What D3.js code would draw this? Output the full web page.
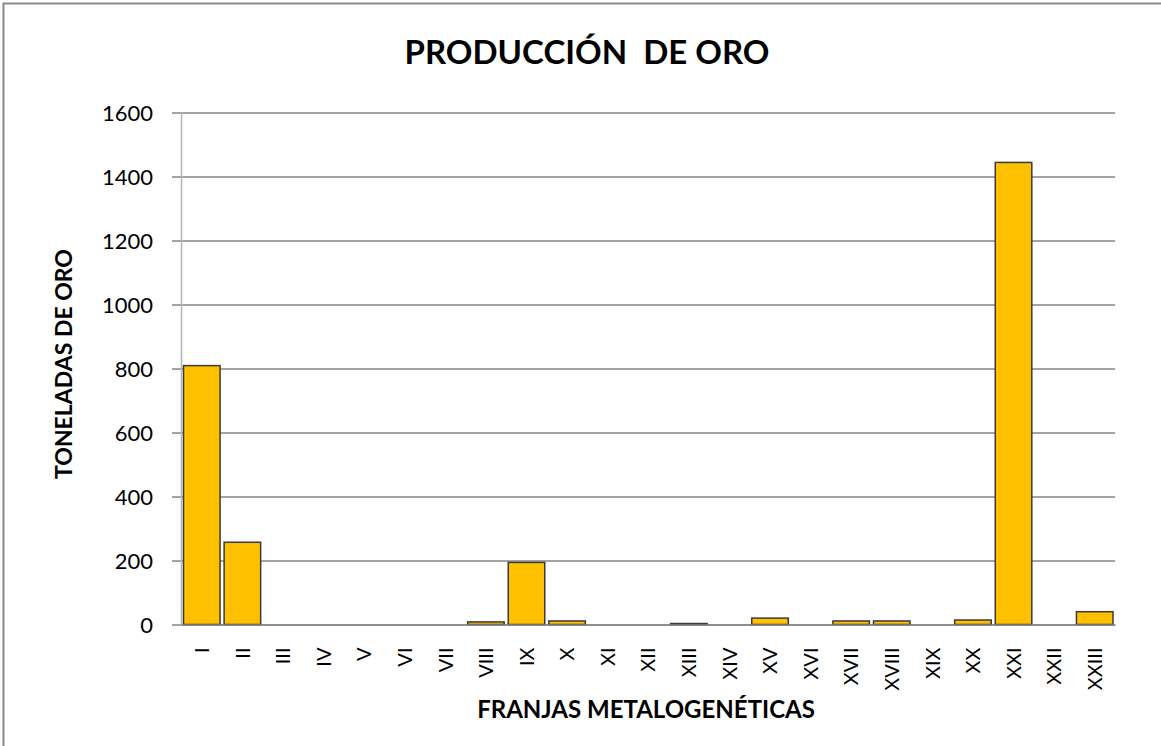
<!DOCTYPE html>
<html>
<head>
<meta charset="utf-8">
<script src="https://cdn.jsdelivr.net/npm/d3@7"></script>
<style>
  body { margin: 0; background: #fff; }
  text { font-family: Lato, "Open Sans", sans-serif; fill: #000; }
</style>
</head>
<body>
<div id="chart"></div>
<script>
// data
var franjas = ['I', 'II', 'III', 'IV', 'V', 'VI', 'VII', 'VIII', 'IX', 'X', 'XI', 'XII',
    'XIII', 'XIV', 'XV', 'XVI', 'XVII', 'XVIII', 'XIX', 'XX', 'XXI', 'XXII', 'XXIII'];
var toneladas = [809, 257, 0, 0, 0, 0, 0, 8, 194, 11, 0, 0,
    3, 0, 20, 0, 11, 11, 0, 14, 1444, 0, 40];
var yTicks = [0, 200, 400, 600, 800, 1000, 1200, 1400, 1600];

var W = 1161, H = 746,
    plotLeft = 181.5, plotRight = 1115, plotTop = 112.5, plotBottom = 624.5;

var svg = d3.select('#chart').append('svg')
    .attr('width', W)
    .attr('height', H);

// chart frame
svg.append('rect')
    .attr('x', 3.5).attr('y', 3.5)
    .attr('width', W + 20).attr('height', H + 20)
    .attr('fill', '#fff')
    .attr('stroke', '#8a8a8a')
    .attr('stroke-width', 2);

var x = d3.scaleBand()
    .domain(franjas)
    .range([plotLeft, plotRight])
    .paddingInner(0.1)
    .paddingOuter(0.05);

var y = d3.scaleLinear()
    .domain([0, 1600])
    .range([plotBottom, plotTop]);

// gridlines + y axis
var yAxis = d3.axisLeft(y)
    .tickValues(yTicks)
    .tickFormat(d3.format('d'))
    .tickSize(-(plotRight - 172))
    .tickPadding(19);

var yGuide = svg.append('g')
    .attr('transform', 'translate(172,0)')
    .call(yAxis);
yGuide.select('.domain').remove();
yGuide.selectAll('.tick line')
    .attr('stroke', '#868686')
    .attr('stroke-width', 1.3);
yGuide.selectAll('.tick text')
    .style('font-size', '22px')
    .attr('dy', '0.36em');

svg.append('line')
    .attr('x1', plotLeft).attr('x2', plotLeft)
    .attr('y1', plotTop).attr('y2', plotBottom)
    .attr('stroke', '#b4b4b4')
    .attr('stroke-width', 1.5);

// bars
svg.append('g').selectAll('rect')
    .data(franjas.map(function(f, i) { return { f: f, v: toneladas[i] }; })
        .filter(function(d) { return d.v > 0; }))
    .enter().append('rect')
    .attr('x', function(d) { return x(d.f); })
    .attr('y', function(d) { return y(d.v); })
    .attr('width', x.bandwidth())
    .attr('height', function(d) { return plotBottom - y(d.v); })
    .attr('fill', '#ffc000')
    .attr('stroke', '#3a3a3a')
    .attr('stroke-width', 1.5);

// x labels, rotated
var xAxis = d3.axisBottom(x).tickSize(0).tickPadding(0);
var xGuide = svg.append('g')
    .attr('transform', 'translate(0,' + plotBottom + ')')
    .call(xAxis);
xGuide.select('.domain')
    .attr('stroke', '#868686')
    .attr('stroke-width', 1.3);
xGuide.selectAll('.tick text')
    .style('font-size', '20px')
    .attr('text-anchor', 'end')
    .attr('transform', 'translate(0,23) rotate(-90)')
    .attr('x', 0)
    .attr('y', 0)
    .attr('dy', '0.36em');

// titles
svg.append('text')
    .attr('x', 587).attr('y', 64)
    .attr('text-anchor', 'middle')
    .style('font-size', '33px')
    .style('font-weight', 'bold')
    .text('PRODUCCIÓN\u00a0 DE ORO');

svg.append('text')
    .attr('x', 646).attr('y', 718)
    .attr('text-anchor', 'middle')
    .style('font-size', '24px')
    .style('font-weight', 'bold')
    .text('FRANJAS METALOGENÉTICAS');

svg.append('text')
    .attr('transform', 'translate(72,364) rotate(-90)')
    .attr('text-anchor', 'middle')
    .style('font-size', '23px')
    .style('font-weight', 'bold')
    .text('TONELADAS DE ORO');
</script>
</body>
</html>
